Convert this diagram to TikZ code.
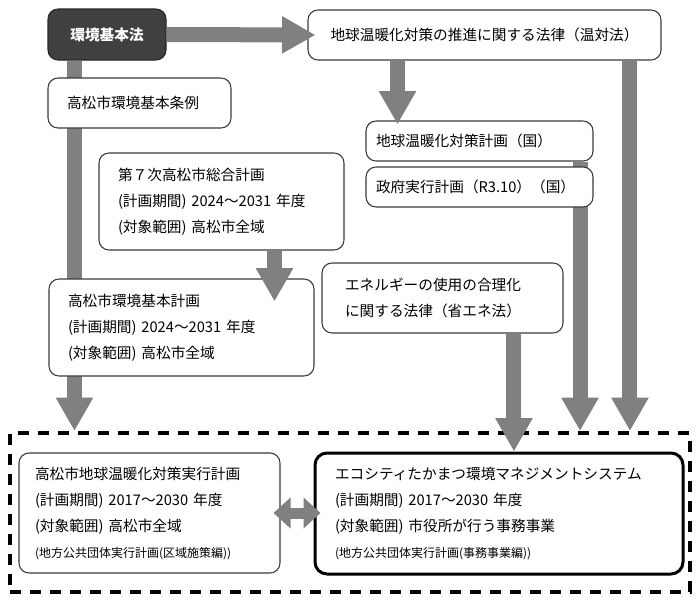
\documentclass[tikz,border=0pt]{standalone}
\usepackage{fontspec}
\setmainfont{Noto Sans CJK JP}
\usetikzlibrary{arrows.meta}
\definecolor{arrowgray}{HTML}{808080}
\definecolor{boxgray}{HTML}{3A3A3A}
\definecolor{darkfill}{HTML}{404040}
\tikzset{
  box/.style={draw=boxgray, line width=0.8pt, rounded corners=7.5pt, fill=white, text=black,
    align=left, inner ysep=0pt, font=\fontsize{11}{19.5}\selectfont},
  darkbox/.style={draw=black!85, line width=0.8pt, rounded corners=7.5pt, fill=darkfill, text=white,
    align=center, font=\fontsize{11}{19.5}\selectfont\bfseries},
  emsbox/.style={box, draw=black, line width=2.25pt, rounded corners=9pt},
  frame/.style={draw=black, line width=3pt, dash pattern=on 8.25pt off 6.75pt},
  bar/.style={draw=arrowgray, line width=11.25pt},
  arr/.style={bar, -{Triangle[width=26.25pt,length=25pt]}},
  dblarr/.style={draw=arrowgray, line width=8.25pt,
    {Triangle[width=22.5pt,length=12.75pt]}-{Triangle[width=22.5pt,length=12.75pt]}},
  small/.style={}
}
\newcommand\smalltxt{\fontsize{9}{19.5}\selectfont}
\begin{document}
\begin{tikzpicture}[x=0.75pt,y=-0.75pt]
\useasboundingbox (0,0) rectangle (700,600);

% dashed frame
\node[frame, minimum width=510pt, minimum height=119.25pt, inner sep=0pt] (frame) at (350,512.5) {};

% boxes whose bars pass behind later boxes
\node[darkbox, minimum width=88.5pt, minimum height=38.25pt, inner sep=0pt] (law) at (107,34.5) {環境基本法};
\node[box, minimum width=264.75pt, minimum height=37.5pt, align=center, inner sep=0pt] (ontai) at (484.5,35) {地球温暖化対策の推進に関する法律（温対法）};
\node[box, minimum height=30pt, inner xsep=7.5pt, text width=155.25pt] (keikaku) at (479.5,141) {地球温暖化対策計画（国）};

% bars drawn behind boxes
\draw[arr] ([xshift=20.25pt]law.south west) -- ([xshift=20.25pt]law.south west |- frame.north);
\draw[arr] ([xshift=75.4pt]keikaku.south) -- ([xshift=75.4pt]keikaku.south |- frame.north);
\draw[arr] ([xshift=109.1pt]ontai.south) -- ([xshift=109.1pt]ontai.south |- frame.north);

% remaining boxes
\node[box, minimum height=37.5pt, inner xsep=14.25pt, text width=108.75pt] (jorei) at (139.5,103) {高松市環境基本条例};
\node[box, minimum height=30pt, inner xsep=7.5pt, text width=155.25pt] (seifu) at (479.5,187) {政府実行計画（R3.10）（国）};
\node[box, minimum height=72.75pt, inner xsep=14.25pt, text width=155.25pt] (sogo) at (221.5,201.5)
  {第７次高松市総合計画\\(計画期間) 2024～2031 年度\\(対象範囲) 高松市全域};
\node[box, minimum height=72.75pt, inner xsep=14.25pt, text width=170.25pt] (kihon) at (181.5,327.5)
  {高松市環境基本計画\\(計画期間) 2024～2031 年度\\(対象範囲) 高松市全域};
\node[box, minimum height=52.5pt, inner xsep=17.25pt, text width=146.25pt] (shoene) at (442.5,298)
  {エネルギーの使用の合理化\\に関する法律（省エネ法）};
\node[box, minimum height=90pt, inner xsep=12pt, text width=171.75pt] (kuiki) at (149.5,513)
  {高松市地球温暖化対策実行計画\\(計画期間) 2017～2030 年度\\(対象範囲) 高松市全域\\\smalltxt (地方公共団体実行計画(区域施策編))};
\node[emsbox, minimum height=90.75pt, inner xsep=15pt, text width=246pt] (ems) at (499,513.5)
  {エコシティたかまつ環境マネジメントシステム\\(計画期間) 2017～2030 年度\\(対象範囲) 市役所が行う事務事業\\\smalltxt (地方公共団体実行計画(事務事業編))};

% arrows drawn on top
\draw[arr] (law.east) -- ([xshift=6pt]ontai.west);
\draw[arr] ([xshift=-65.25pt]ontai.south) -- ([xshift=-65.25pt,yshift=-3pt]ontai.south |- keikaku.north);
\draw[arr] ([xshift=39.75pt]sogo.south) -- ([xshift=39.75pt,yshift=-17.25pt]sogo.south |- kihon.north);
\draw[arr] ([xshift=53.6pt]shoene.south) -- ([xshift=53.6pt]shoene.south |- ems.north);
\draw[dblarr] ([xshift=-5.25pt]kuiki.east) -- ([xshift=5.25pt]kuiki.east -| ems.west);
\end{tikzpicture}
\end{document}
